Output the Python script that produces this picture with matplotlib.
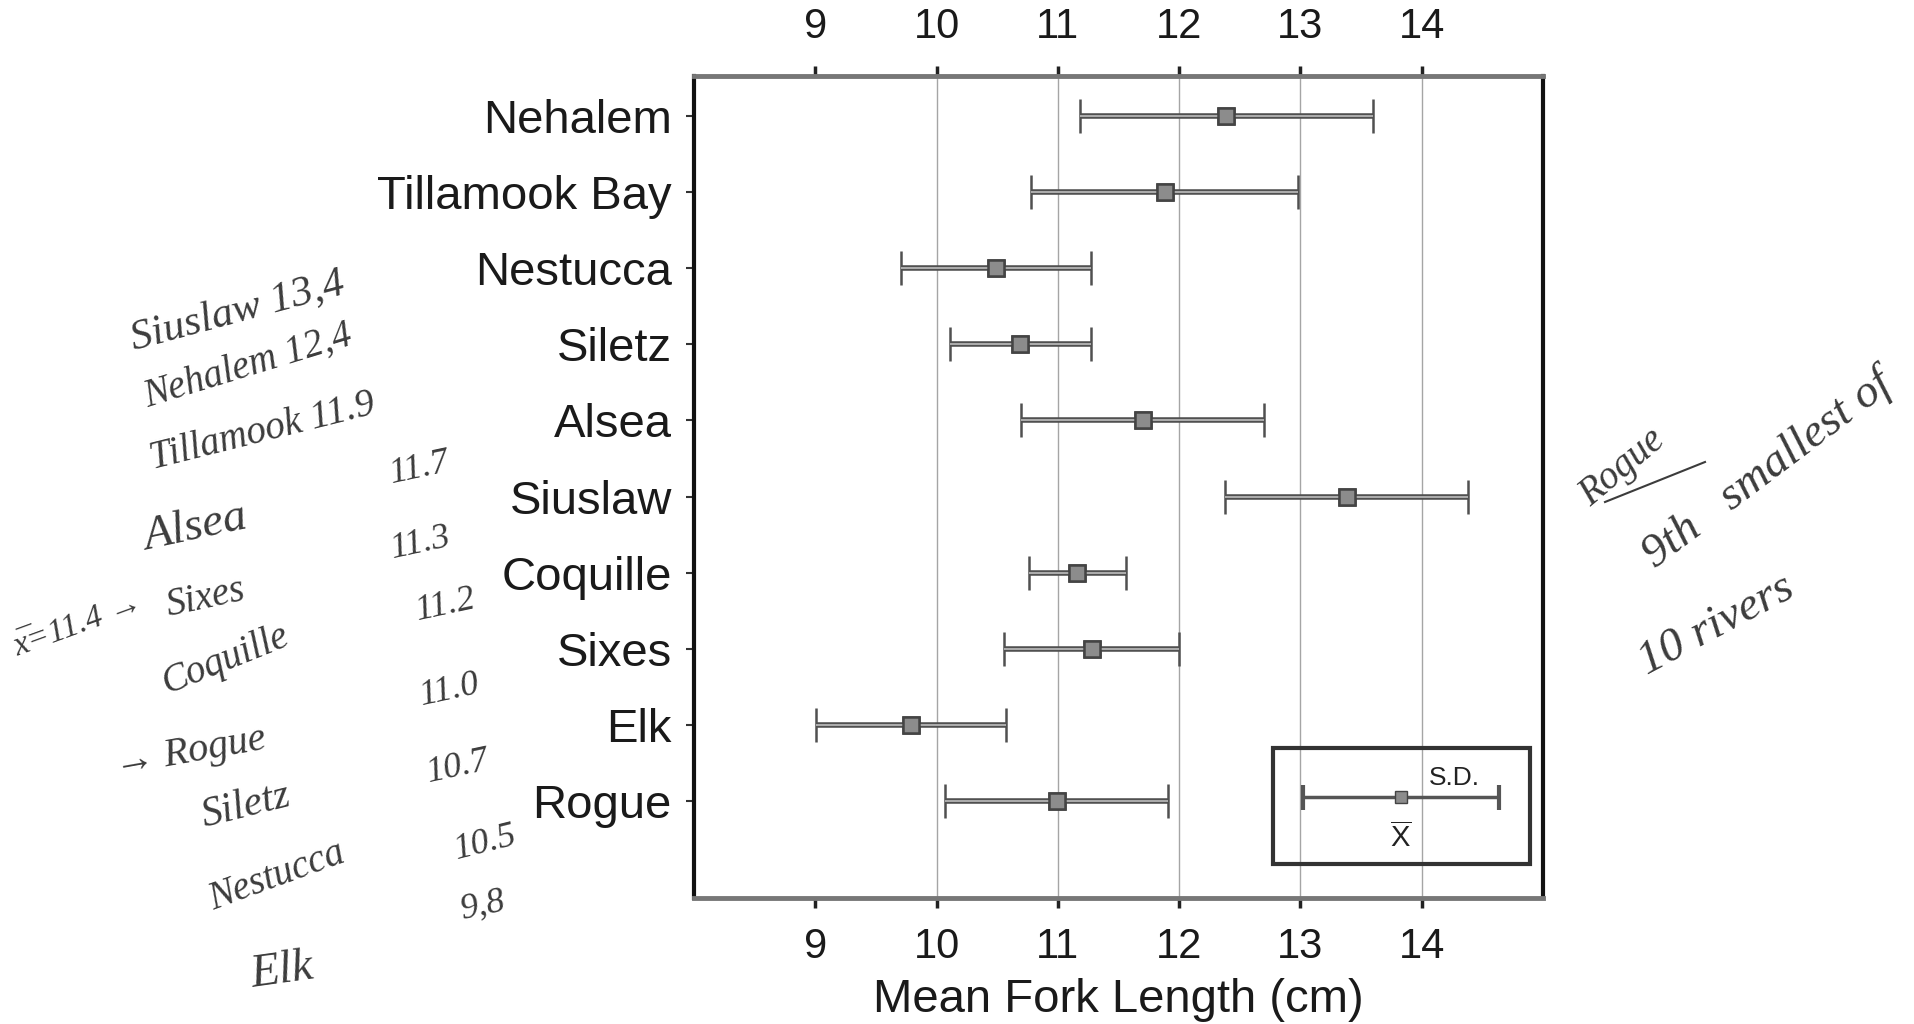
import matplotlib
matplotlib.use("Agg")
import matplotlib.pyplot as plt
from matplotlib.patches import Rectangle
from matplotlib.lines import Line2D
import numpy as np

plt.rcParams["font.family"] = ["Liberation Sans", "DejaVu Sans"]
plt.rcParams["mathtext.fontset"] = "custom"
plt.rcParams["mathtext.rm"] = "Liberation Sans"

# river, mean fork length and s.d. (cm), top to bottom
rivers = ["Nehalem", "Tillamook Bay", "Nestucca", "Siletz", "Alsea",
          "Siuslaw", "Coquille", "Sixes", "Elk", "Rogue"]
means = [12.39, 11.88, 10.49, 10.69, 11.70, 13.38, 11.16, 11.28, 9.79, 10.99]
sds = [1.21, 1.10, 0.78, 0.58, 1.00, 1.00, 0.40, 0.72, 0.78, 0.92]
x_ticks = [9, 10, 11, 12, 13, 14]
grid_x = [10, 11, 12, 13, 14]

# sample bar used in the key
key_mean = 13.83
key_sd = 0.81

W, H = 1915, 1024
fig = plt.figure(figsize=(W / 100, H / 100), dpi=100)
fig.patch.set_facecolor("white")
ax = fig.add_axes([694 / W, 1 - 898 / H, (1543 - 694) / W, (898 - 76) / H])

ypos = np.arange(len(rivers))
means_arr = np.array(means)
sds_arr = np.array(sds)

for gx in grid_x:
    ax.axvline(gx, color="#a5a5a5", lw=1.0, zorder=0)

# dark outer bar, caps and marker
ax.errorbar(means, ypos, xerr=sds, fmt="s", color="#555555", ecolor="#505050",
            elinewidth=4, capsize=12, capthick=3.5, markersize=12,
            markerfacecolor="#8c8c8c", markeredgecolor="#444444",
            markeredgewidth=1.8, zorder=3)
# lighter core of the bar line (scan look)
ax.hlines(ypos, means_arr - sds_arr, means_arr + sds_arr, color="#b5b5b5",
          lw=1.3, zorder=3.5)
ax.plot(means, ypos, "s", markersize=12, markerfacecolor="#8c8c8c",
        markeredgecolor="#444444", markeredgewidth=1.8, zorder=4)

ax.set_xlim(8, 15)
ax.set_ylim(10.27, -0.52)
ax.set_yticks(ypos)
ax.set_yticklabels(rivers, fontsize=34, color="#1a1a1a")
ax.set_xticks(x_ticks)
ax.set_xticklabels([str(t) for t in x_ticks], fontsize=30, color="#1a1a1a")
ax.tick_params(axis="x", which="both", top=True, labeltop=True, direction="out",
               length=7, width=2.5, pad=14, color="#222222")
ax.tick_params(axis="y", direction="out", length=6, width=1.5, pad=10,
               color="#333333")
ax.set_xlabel("Mean Fork Length (cm)", fontsize=34, color="#1a1a1a", labelpad=8)

for side in ["left", "right"]:
    ax.spines[side].set_linewidth(3)
    ax.spines[side].set_color("#111111")
for side in ["top", "bottom"]:
    ax.spines[side].set_linewidth(3.5)
    ax.spines[side].set_color("#777777")

# key box
ax.add_patch(Rectangle((12.77, 8.30), 2.12, 1.52, fill=False, lw=3,
                       edgecolor="#333333", zorder=4))
ax.errorbar([key_mean], [8.94], xerr=[key_sd], fmt="s", color="#5a5a5a",
            ecolor="#555555", elinewidth=2.5, capsize=9, capthick=3,
            markersize=9, markerfacecolor="#8c8c8c", markeredgecolor="#444444",
            zorder=5)
ax.text(14.27, 8.70, "S.D.", fontsize=19, ha="center", va="center",
        color="#222222", zorder=5)
ax.text(key_mean, 9.48, r"$\overline{\mathrm{X}}$", fontsize=21, ha="center",
        va="center", color="#222222", zorder=5)

# handwritten notes
hand = dict(family=["Liberation Serif", "DejaVu Serif"], style="italic",
            color="#3c3c3c", ha="center", va="center")
notes = [
    ("Siuslaw 13,4", 238, 312, 15, 31),
    ("Nehalem 12,4", 248, 366, 17, 28),
    ("Tillamook 11.9", 263, 432, 14, 28),
    ("Alsea", 196, 528, 12, 34),
    ("11.7", 420, 468, 12, 26),
    ("Sixes", 206, 598, 12, 28),
    ("11.3", 421, 543, 12, 26),
    ("x\u0305=11.4 \u2192", 78, 625, 20, 24),
    ("Coquille", 226, 660, 22, 28),
    ("11.2", 446, 605, 12, 26),
    ("11.0", 450, 690, 12, 26),
    ("\u2192 Rogue", 190, 752, 10, 29),
    ("10.7", 458, 767, 12, 26),
    ("Siletz", 246, 806, 14, 30),
    ("10.5", 485, 843, 14, 26),
    ("Nestucca", 277, 877, 20, 28),
    ("9,8", 483, 906, 12, 26),
    ("Elk", 282, 971, 8, 34),
    ("Rogue", 1622, 468, 40, 28),
    ("9th   smallest of", 1768, 470, 37, 34),
    ("10 rivers", 1716, 625, 28, 34),
]
for txt, px, py, rot, fs in notes:
    fig.text(px / W, 1 - py / H, txt, rotation=rot, fontsize=fs, **hand)

# underline under the right-hand "Rogue"
fig.add_artist(Line2D([1605 / W, 1705 / W], [1 - 502 / H, 1 - 462 / H],
                      color="#3c3c3c", lw=1.5))

fig.savefig("out.png", dpi=100, facecolor="white")
